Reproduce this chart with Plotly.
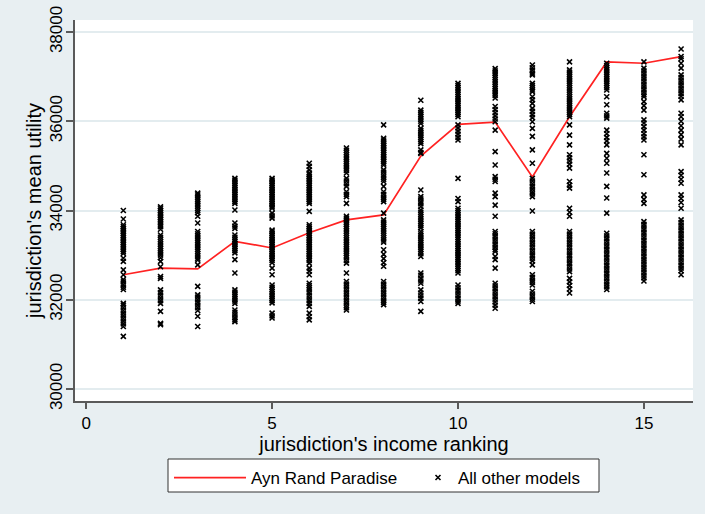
import plotly.graph_objects as go

# Income ranking of each jurisdiction
ranking = list(range(1, 17))

# Mean utility under the Ayn Rand Paradise model
ayn_rand = [32560, 32710, 32690, 33310, 33160, 33500, 33790, 33900,
            35220, 35930, 35980, 34750, 36100, 37330, 37300, 37450]

# Mean utility of every other model, one list per income ranking
rank01 = [34000, 33810, 33680, 33640, 33600, 33560, 33520, 33480, 33440, 33400, 33360, 33320,
          33280, 33240, 33200, 33160, 33120, 33080, 33040, 32930, 32860, 32670, 32560, 32450,
          32400, 32340, 32280, 32230, 31920, 31880, 31820, 31760, 31700, 31640, 31580, 31520,
          31460, 31400, 31180]
rank02 = [34080, 34040, 34000, 33960, 33920, 33880, 33840, 33800, 33760, 33720, 33680, 33640,
          33580, 33450, 33400, 33350, 33300, 33250, 33200, 33150, 33100, 33050, 33000, 32940,
          32860, 32740, 32520, 32480, 32220, 32160, 32100, 32040, 31980, 31920, 31740, 31470,
          31440]
rank03 = [34390, 34350, 34300, 34250, 34200, 34150, 34100, 34050, 34000, 33950, 33870, 33720,
          33530, 33480, 33430, 33380, 33330, 33280, 33230, 33180, 33130, 33080, 33030, 32980,
          32930, 32890, 32780, 32300, 32110, 32060, 32000, 31940, 31880, 31820, 31760, 31630,
          31400]
rank04 = [34720, 34680, 34640, 34600, 34560, 34520, 34480, 34440, 34400, 34360, 34320, 34280,
          34240, 34200, 34160, 34010, 33720, 33650, 33600, 33450, 33400, 33350, 33310, 33270,
          33230, 33190, 33150, 33100, 33050, 32900, 32600, 32220, 32170, 32120, 32070, 32020,
          31970, 31920, 31770, 31720, 31660, 31600, 31550, 31510]
rank05 = [34720, 34680, 34640, 34600, 34560, 34520, 34480, 34440, 34400, 34360, 34320, 34280,
          34240, 34200, 34160, 34120, 34080, 34050, 33940, 33880, 33830, 33560, 33520, 33480,
          33440, 33400, 33360, 33320, 33280, 33240, 33200, 33160, 33120, 33080, 33040, 33000,
          32960, 32920, 32880, 32830, 32710, 32560, 32330, 32280, 32230, 32180, 32130, 32080,
          32030, 31980, 31930, 31700, 31640, 31590]
rank06 = [35060, 34990, 34910, 34840, 34800, 34760, 34720, 34680, 34640, 34600, 34560, 34520,
          34480, 34440, 34400, 34360, 34320, 34280, 34240, 34200, 34160, 33980, 33680, 33640,
          33600, 33560, 33520, 33480, 33440, 33400, 33360, 33320, 33280, 33240, 33200, 33160,
          33120, 33080, 33040, 33000, 32960, 32920, 32880, 32820, 32710, 32640, 32560, 32370,
          32320, 32270, 32220, 32160, 32100, 32040, 31980, 31920, 31850, 31700, 31620, 31550]
rank07 = [35400, 35350, 35300, 35250, 35200, 35150, 35100, 35050, 35000, 34950, 34900, 34840,
          34720, 34660, 34600, 34540, 34420, 34360, 34310, 34160, 33870, 33830, 33790, 33740,
          33690, 33640, 33590, 33540, 33490, 33440, 33390, 33340, 33290, 33240, 33190, 33140,
          33090, 33040, 32990, 32940, 32880, 32820, 32600, 32410, 32350, 32290, 32230, 32170,
          32110, 32050, 31990, 31930, 31870, 31820, 31770]
rank08 = [35920, 35620, 35580, 35540, 35500, 35460, 35420, 35380, 35340, 35300, 35260, 35220,
          35180, 35140, 35100, 35060, 35020, 34910, 34860, 34800, 34750, 34700, 34650, 34540,
          34420, 34360, 34300, 34250, 34200, 33940, 33790, 33740, 33690, 33640, 33590, 33540,
          33490, 33440, 33390, 33340, 33290, 33120, 33020, 32920, 32830, 32750, 32410, 32350,
          32290, 32230, 32170, 32110, 32050, 31990, 31940, 31890]
rank09 = [36470, 36250, 36200, 36150, 36100, 36050, 36000, 35950, 35840, 35790, 35740, 35690,
          35640, 35590, 35540, 35500, 35360, 35300, 35280, 34460, 34310, 34260, 34200, 34150,
          34090, 34010, 33960, 33910, 33860, 33810, 33760, 33710, 33660, 33610, 33530, 33480,
          33430, 33380, 33330, 33280, 33230, 33180, 33130, 33080, 33030, 32970, 32600, 32550,
          32480, 32420, 32370, 32220, 32150, 32090, 32030, 31960, 31740]
rank10 = [36850, 36800, 36750, 36700, 36650, 36600, 36550, 36500, 36450, 36400, 36350, 36300,
          36250, 36200, 36150, 36100, 35920, 35850, 35780, 35710, 35640, 35580, 34720, 34270,
          34200, 34050, 34000, 33950, 33900, 33850, 33800, 33750, 33700, 33650, 33600, 33550,
          33500, 33450, 33400, 33350, 33300, 33250, 33200, 33150, 33100, 33050, 33000, 32950,
          32900, 32850, 32800, 32750, 32700, 32650, 32600, 32330, 32270, 32210, 32150, 32090,
          32030, 31970, 31920]
rank11 = [37180, 37130, 37080, 37030, 36980, 36930, 36880, 36830, 36780, 36730, 36680, 36630,
          36580, 36520, 36330, 36260, 36190, 36120, 36050, 35990, 35800, 35320, 35020, 34760,
          34700, 34650, 34390, 34310, 34120, 33870, 33530, 33480, 33420, 33360, 33300, 33240,
          33180, 33120, 33080, 32970, 32900, 32710, 32370, 32310, 32250, 32190, 32130, 32070,
          32010, 31950, 31880, 31810]
rank12 = [37260, 37200, 37140, 37080, 37040, 36850, 36800, 36750, 36700, 36660, 36550, 36480,
          36400, 36290, 36220, 36150, 36080, 35990, 35840, 35660, 35360, 35060, 34720, 34660,
          34600, 34540, 34480, 34420, 34370, 34310, 33990, 33530, 33470, 33410, 33350, 33290,
          33230, 33170, 33110, 33050, 32990, 32930, 32870, 32780, 32560, 32500, 32440, 32390,
          32330, 32190, 32130, 32070, 32010, 31960]
rank13 = [37330, 37150, 37100, 37050, 37000, 36950, 36900, 36850, 36800, 36750, 36700, 36650,
          36600, 36550, 36500, 36450, 36400, 36350, 36300, 36250, 36200, 36150, 36100, 35920,
          35690, 35470, 35250, 35180, 35110, 35040, 34950, 34650, 34570, 34500, 34050, 33960,
          33870, 33530, 33470, 33410, 33350, 33290, 33230, 33170, 33110, 33050, 32990, 32930,
          32870, 32810, 32750, 32690, 32630, 32480, 32400, 32320, 32240, 32150]
rank14 = [37300, 37250, 37200, 37150, 37100, 37050, 37000, 36950, 36900, 36850, 36800, 36750,
          36700, 36550, 36370, 36180, 36120, 36070, 35800, 35720, 35640, 35560, 35470, 35280,
          35170, 35060, 34840, 34540, 34280, 33940, 33490, 33430, 33370, 33310, 33250, 33190,
          33130, 33070, 33010, 32950, 32890, 32830, 32770, 32710, 32650, 32590, 32530, 32470,
          32410, 32350, 32290, 32230]
rank15 = [37330, 37190, 37130, 37070, 37010, 36950, 36890, 36830, 36770, 36710, 36650, 36590,
          36550, 36440, 36350, 36250, 36030, 35960, 35880, 35800, 35720, 35650, 35580, 35250,
          34800, 34350, 34250, 34160, 33750, 33690, 33630, 33570, 33510, 33450, 33390, 33330,
          33270, 33210, 33150, 33090, 33030, 32970, 32910, 32850, 32790, 32730, 32670, 32610,
          32550, 32490, 32420]
rank16 = [37620, 37450, 37400, 37300, 37190, 37040, 36980, 36920, 36860, 36800, 36740, 36680,
          36620, 36560, 36480, 36180, 36100, 36000, 35900, 35800, 35700, 35600, 35470, 34870,
          34790, 34700, 34610, 34350, 34270, 34180, 34050, 33790, 33730, 33670, 33610, 33550,
          33490, 33430, 33370, 33310, 33250, 33190, 33130, 33070, 33010, 32950, 32890, 32830,
          32770, 32710, 32650, 32560]

other_models = [rank01, rank02, rank03, rank04, rank05, rank06, rank07, rank08,
                rank09, rank10, rank11, rank12, rank13, rank14, rank15, rank16]

x_ticks = [0, 5, 10, 15]
y_ticks = [30000, 32000, 34000, 36000, 38000]
y_tick_labels = ["30000", "32000", "34000", "36000", "38000"]

scatter_x = []
scatter_y = []
for rank, values in zip(ranking, other_models):
    scatter_x.extend([rank] * len(values))
    scatter_y.extend(values)

FONT = "Liberation Sans, Arial, Helvetica, sans-serif"
BG = "#e8eff2"
AXIS = "#5a5a5a"
W, H = 705, 514
# plot area in pixels
L, R, T, B = 75, 12, 20, 113
PW, PH = W - L - R, H - T - B


def px_x(p):
    return (p - L) / PW


def px_y(p):
    return (H - B - p) / PH


fig = go.Figure()
fig.add_trace(go.Scatter(
    x=ranking, y=ayn_rand, mode="lines", name="Ayn Rand Paradise",
    line=dict(color="#ff2222", width=1.7), legend="legend",
))
fig.add_trace(go.Scatter(
    x=scatter_x, y=scatter_y, mode="markers", name="All other models",
    marker=dict(symbol="x-thin-open", size=5, color="black",
                line=dict(color="black", width=1.6)),
    legend="legend2",
))

legend_common = dict(
    orientation="h", xref="container", yref="container", yanchor="top",
    y=1 - 460 / H, bgcolor="rgba(0,0,0,0)", borderwidth=0,
    font=dict(family=FONT, size=17, color="black"),
)

fig.update_layout(
    width=W, height=H,
    margin=dict(l=L, r=R, t=T, b=B, autoexpand=False),
    paper_bgcolor=BG, plot_bgcolor="white",
    font=dict(family=FONT, size=17, color="black"),
    showlegend=True,
    legend=dict(x=169 / W, xanchor="left", itemwidth=72, **legend_common),
    legend2=dict(x=418 / W, xanchor="left", itemwidth=30, **legend_common),
    shapes=[dict(
        type="rect", xref="paper", yref="paper", layer="below",
        x0=px_x(168), x1=px_x(599), y0=px_y(492), y1=px_y(459),
        fillcolor="white", line=dict(color="#333333", width=1),
    )],
    xaxis=dict(
        range=[-0.3, 16.32], tickvals=x_ticks, showgrid=False, zeroline=False,
        showline=True, linecolor=AXIS, linewidth=2, ticks="outside",
        ticklen=6, tickcolor=AXIS, tickwidth=1.5, automargin=False,
        title=dict(text="jurisdiction's income ranking", standoff=3),
        tickfont=dict(size=17),
    ),
    yaxis=dict(
        range=[29731, 38269], tickvals=y_ticks, ticktext=y_tick_labels, tickangle=-90,
        showgrid=True, gridcolor="#e3ecef", gridwidth=1.5, zeroline=False,
        showline=True, linecolor=AXIS, linewidth=2, ticks="outside",
        ticklen=7, tickcolor=AXIS, tickwidth=1.5, automargin=False,
        ticklabelstandoff=-3,
        title=dict(text="jurisdiction's mean utility", standoff=0),
        tickfont=dict(size=17),
    ),
)

fig.write_html("out.html")
